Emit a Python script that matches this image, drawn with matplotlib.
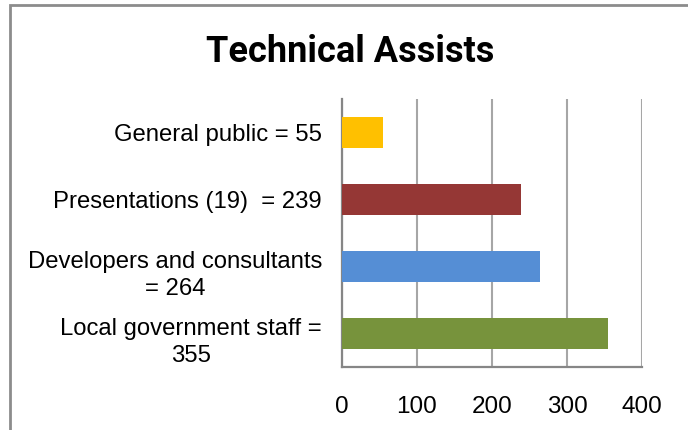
import matplotlib
matplotlib.use("Agg")
import matplotlib.pyplot as plt
from matplotlib.patches import Rectangle
from matplotlib import font_manager
import matplotlib.transforms as mtransforms

categories = ["Local government staff =\n355",
              "Developers and consultants\n= 264",
              "Presentations (19)  = 239",
              "General public = 55"]
values = [355, 264, 239, 55]
colors = ["#77933C", "#558ED5", "#953735", "#FFC000"]
xticks = [0, 100, 200, 300, 400]

plt.rcParams['font.family'] = ['Liberation Sans', 'DejaVu Sans']

fig = plt.figure(figsize=(6.88, 4.30), dpi=100)
ax = fig.add_axes([342/688, 63/430, 300/688, 268/430])

ypos = list(range(len(categories)))
ax.barh(ypos, values, height=0.45, color=colors, zorder=3)
ax.set_xlim(0, 400)
ax.set_ylim(-0.5, len(categories) - 0.5)
ax.set_xticks(xticks)
ax.set_xticklabels([str(t) for t in xticks], fontsize=17.5)
ax.set_yticks(ypos)
ax.set_yticklabels(categories, fontsize=17.2, ha='right', multialignment='center',
                   linespacing=1.3)
ax.tick_params(axis='y', length=0, pad=14.4)
ax.tick_params(axis='x', length=0, pad=21)
down = mtransforms.ScaledTranslation(0, -4 / 100, fig.dpi_scale_trans)
for lab in ax.get_yticklabels():
    if "\n" in lab.get_text():
        lab.set_transform(lab.get_transform() + down)

ax.grid(axis='x', color='#a6a6a6', linewidth=1.5, zorder=0)
ax.set_axisbelow(True)
for s in ['top', 'right']:
    ax.spines[s].set_visible(False)
for s in ['left', 'bottom']:
    ax.spines[s].set_color('#868686')
    ax.spines[s].set_linewidth(1.6)

names = {f.name for f in font_manager.fontManager.ttflist}
title_family = ['Liberation Sans Narrow', 'Roboto', 'DejaVu Sans']
title_family = [f for f in title_family if f in names] or ['DejaVu Sans']
fig.text(350/688, 1 - 62/430, "Technical Assists", ha='center', va='baseline',
         fontsize=26, fontweight='bold', family=title_family)

border = Rectangle((10/688, -0.1), 1.0, (430 - 5)/430 + 0.1, transform=fig.transFigure,
                   fill=False, edgecolor='#8c8c8c', linewidth=2)
fig.patches.append(border)

fig.savefig("out.png", dpi=100)
